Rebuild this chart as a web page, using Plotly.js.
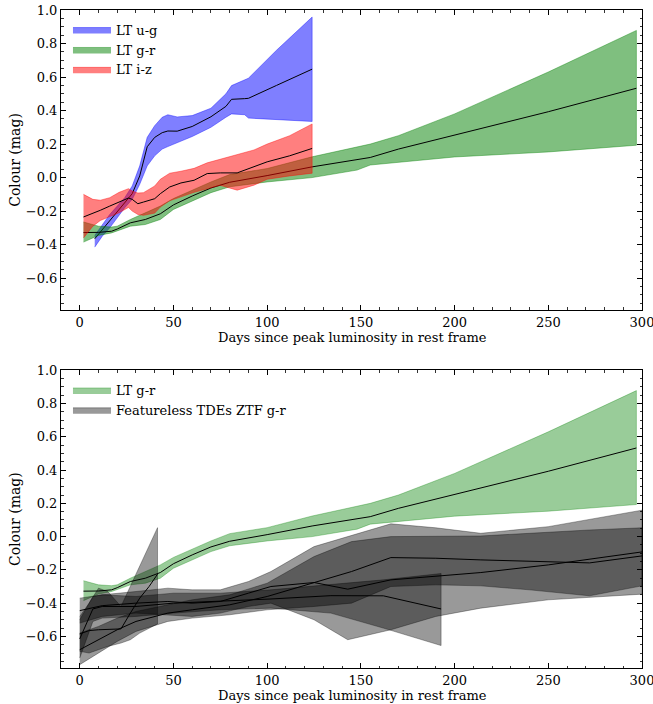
<!DOCTYPE html>
<html><head><meta charset="utf-8">
<script src="https://cdn.plot.ly/plotly-3.0.1.min.js"></script>
<style>body{margin:0;background:#fff}#chart{width:653px;height:704px}</style>
</head><body><div id="chart"></div>
<script>
// ---------- LT u-g ----------
const ug_x  = [8, 12, 16, 20, 24, 28, 32, 36, 40, 44, 47, 52, 60, 70, 78, 81, 88, 90, 105, 124];
const ug_med= [-0.365,-0.31,-0.255,-0.20,-0.15,-0.096,0.01,0.184,0.24,0.268,0.278,0.277,0.305,0.363,0.425,0.467,0.471,0.473,0.55,0.647];
const ug_up = [-0.345,-0.28,-0.22,-0.17,-0.12,-0.05,0.07,0.24,0.31,0.36,0.375,0.362,0.37,0.414,0.50,0.549,0.58,0.593,0.76,0.958];
const ug_lo = [-0.415,-0.35,-0.30,-0.24,-0.18,-0.13,-0.04,0.07,0.13,0.17,0.185,0.21,0.245,0.30,0.36,0.38,0.375,0.355,0.345,0.335];
// ---------- LT g-r ----------
const gr_x  = [2, 10, 17, 20, 27, 35, 43, 50, 60, 70, 80, 90, 100, 124, 148, 155, 170, 200, 250, 297];
const gr_med= [-0.328,-0.327,-0.32,-0.307,-0.27,-0.25,-0.216,-0.163,-0.11,-0.062,-0.028,-0.01,0.012,0.064,0.105,0.12,0.17,0.253,0.393,0.533];
const gr_up = [-0.265,-0.29,-0.295,-0.29,-0.25,-0.21,-0.17,-0.125,-0.075,-0.026,0.018,0.035,0.054,0.124,0.183,0.20,0.25,0.38,0.63,0.878];
const gr_lo = [-0.385,-0.345,-0.33,-0.315,-0.29,-0.28,-0.25,-0.19,-0.14,-0.09,-0.055,-0.04,-0.026,0.0,0.045,0.075,0.093,0.123,0.153,0.193];
// ---------- LT i-z ----------
const iz_x  = [2, 7, 11, 16, 21, 26, 28, 31, 34, 40, 43, 48, 54, 61, 68, 75, 84, 93, 100, 112, 124];
const iz_med= [-0.235,-0.215,-0.195,-0.17,-0.146,-0.122,-0.13,-0.156,-0.146,-0.126,-0.096,-0.056,-0.032,-0.016,0.024,0.028,0.028,0.064,0.094,0.13,0.174];
const iz_up = [-0.10,-0.13,-0.135,-0.12,-0.088,-0.066,-0.08,-0.092,-0.09,-0.05,-0.01,0.026,0.038,0.055,0.088,0.11,0.138,0.165,0.20,0.25,0.32];
const iz_lo = [-0.36,-0.29,-0.256,-0.235,-0.21,-0.178,-0.20,-0.22,-0.225,-0.212,-0.176,-0.138,-0.115,-0.088,-0.065,-0.046,-0.075,-0.045,-0.01,0.01,0.026];
// ---------- Featureless TDEs ZTF g-r ----------
const z1_x  = [0, 10, 20, 30, 47, 60, 80, 100, 125, 145, 166, 190, 214, 240, 272, 300];
const z1_med= [-0.68,-0.62,-0.56,-0.51,-0.46,-0.44,-0.41,-0.36,-0.276,-0.21,-0.126,-0.13,-0.14,-0.15,-0.158,-0.116];
const z1_up = [-0.58,-0.54,-0.49,-0.45,-0.41,-0.38,-0.35,-0.28,-0.12,-0.03,0.0,0.0,0.004,0.02,0.04,0.053];
const z1_lo = [-0.77,-0.70,-0.63,-0.57,-0.51,-0.49,-0.47,-0.44,-0.42,-0.40,-0.30,-0.29,-0.296,-0.32,-0.356,-0.296];

const z2_x  = [0, 12, 30, 47, 60, 75, 90, 102, 125, 143, 166, 190, 214, 250, 300];
const z2_med= [-0.445,-0.415,-0.40,-0.39,-0.40,-0.39,-0.34,-0.30,-0.276,-0.316,-0.26,-0.236,-0.216,-0.17,-0.092];
const z2_up = [-0.37,-0.35,-0.33,-0.31,-0.32,-0.32,-0.27,-0.21,-0.06,0.0,0.077,0.053,0.02,0.06,0.159];
const z2_lo = [-0.52,-0.48,-0.46,-0.47,-0.48,-0.46,-0.42,-0.40,-0.50,-0.62,-0.56,-0.48,-0.43,-0.38,-0.346];

const z3_x  = [0, 7, 12, 30, 50, 75, 102, 134, 162, 192.8];
const z3_med= [-0.615,-0.435,-0.42,-0.42,-0.40,-0.39,-0.375,-0.355,-0.356,-0.435];
const z3_up = [-0.50,-0.36,-0.35,-0.36,-0.34,-0.34,-0.32,-0.29,-0.26,-0.222];
const z3_lo = [-0.73,-0.51,-0.49,-0.48,-0.46,-0.44,-0.43,-0.46,-0.55,-0.655];

const z4_x  = [0, 5, 10, 15, 22, 27, 32, 37, 41.5];
const z4_med= [-0.585,-0.565,-0.56,-0.557,-0.555,-0.46,-0.37,-0.30,-0.226];
const z4_up = [-0.48,-0.40,-0.31,-0.33,-0.42,-0.30,-0.17,-0.06,0.054];
const z4_lo = [-0.69,-0.70,-0.68,-0.66,-0.64,-0.62,-0.58,-0.55,-0.525];

const xTitle = 'Days since peak luminosity in rest frame';
const yTitle = 'Colour (mag)';

const FONT = '"DejaVu Serif", "Liberation Serif", serif';
const traces = [];
function band(x, up, lo, fill, edge, name, show, xa, ya, leg){
  traces.push({x: x.concat(x.slice().reverse()), y: up.concat(lo.slice().reverse()),
    type:'scatter', mode:'lines', fill:'toself', fillcolor:fill,
    line:{color:edge, width:0.8}, name:name, showlegend:show,
    xaxis:xa, yaxis:ya, legend:leg, hoverinfo:'skip'});
}
function med(x, y, xa, ya){
  traces.push({x:x, y:y, type:'scatter', mode:'lines', line:{color:'black', width:1},
    showlegend:false, xaxis:xa, yaxis:ya, hoverinfo:'skip'});
}
// top panel
band(ug_x, ug_up, ug_lo, 'rgba(0,0,255,0.5)', 'rgba(0,0,255,0.5)', 'LT u-g', true, 'x', 'y', 'legend');
med(ug_x, ug_med, 'x', 'y');
band(gr_x, gr_up, gr_lo, 'rgba(0,128,0,0.5)', 'rgba(0,128,0,0.5)', 'LT g-r', true, 'x', 'y', 'legend');
med(gr_x, gr_med, 'x', 'y');
band(iz_x, iz_up, iz_lo, 'rgba(255,0,0,0.5)', 'rgba(255,0,0,0.5)', 'LT i-z', true, 'x', 'y', 'legend');
med(iz_x, iz_med, 'x', 'y');
// bottom panel
band(gr_x, gr_up, gr_lo, 'rgba(0,128,0,0.4)', 'rgba(0,128,0,0.4)', 'LT g-r', true, 'x2', 'y2', 'legend2');
med(gr_x, gr_med, 'x2', 'y2');
const zs = [[z1_x,z1_med,z1_up,z1_lo],[z2_x,z2_med,z2_up,z2_lo],[z3_x,z3_med,z3_up,z3_lo],[z4_x,z4_med,z4_up,z4_lo]];
zs.forEach((z,i)=>{
  band(z[0], z[2], z[3], 'rgba(0,0,0,0.4)', 'rgba(0,0,0,0.4)', 'Featureless TDEs ZTF g-r', i===0, 'x2', 'y2', 'legend2');
  med(z[0], z[1], 'x2', 'y2');
});

function xax(anchor){
  return {anchor:anchor, range:[-10,300], tickmode:'linear', tick0:0, dtick:50,
    showline:true, linecolor:'black', linewidth:1, mirror:'ticks',
    ticks:'inside', ticklen:5, tickwidth:1, tickcolor:'black', ticklabeloverflow:'allow',
    minor:{ticks:'inside', ticklen:2.5, tickwidth:0.8, tickcolor:'black', dtick:10, tick0:0},
    showgrid:false, zeroline:false,
    tickfont:{family:FONT, size:13, color:'black'}};
}
function yax(anchor, dom){
  return {anchor:anchor, domain:dom, range:[-0.79,1.0], tickmode:'linear', tick0:0, dtick:0.2, tickformat:'.1f',
    showline:true, linecolor:'black', linewidth:1, mirror:'ticks',
    ticks:'inside', ticklen:5, tickwidth:1, tickcolor:'black',
    minor:{ticks:'inside', ticklen:2.5, tickwidth:0.8, tickcolor:'black', dtick:0.05, tick0:0},
    showgrid:false, zeroline:false,
    tickfont:{family:FONT, size:13, color:'black'},
    title:{text:yTitle, font:{family:FONT, size:14, color:'black'}, standoff:1}};
}
const layout = {
  width:653, height:704, paper_bgcolor:'white', plot_bgcolor:'white',
  margin:{l:61, r:11, t:10, b:36},
  font:{family:FONT, color:'black'},
  xaxis:xax('y'), yaxis:yax('x',[0.5441,1]),
  xaxis2:xax('y2'), yaxis2:yax('x2',[0,0.4524]),
  annotations:[
    {text:xTitle, xref:'paper', yref:'paper', x:0.501, y:0.503, xanchor:'center', yanchor:'middle', showarrow:false, borderpad:0, font:{family:FONT, size:13, color:'black'}},
    {text:xTitle, xref:'paper', yref:'paper', x:0.501, y:-0.0547, xanchor:'center', yanchor:'bottom', showarrow:false, borderpad:0, font:{family:FONT, size:13, color:'black'}}
  ],
  legend:{x:0.012, y:0.993, xanchor:'left', yanchor:'top', bgcolor:'rgba(0,0,0,0)', itemwidth:38,
    font:{family:FONT, size:13, color:'black'}, tracegroupgap:0},
  legend2:{x:0.012, y:0.4453, xanchor:'left', yanchor:'top', bgcolor:'rgba(0,0,0,0)', itemwidth:38,
    font:{family:FONT, size:13, color:'black'}, tracegroupgap:0},
  showlegend:true
};
Plotly.newPlot('chart', traces, layout, {staticPlot:true, displayModeBar:false});
</script>
</body></html>
